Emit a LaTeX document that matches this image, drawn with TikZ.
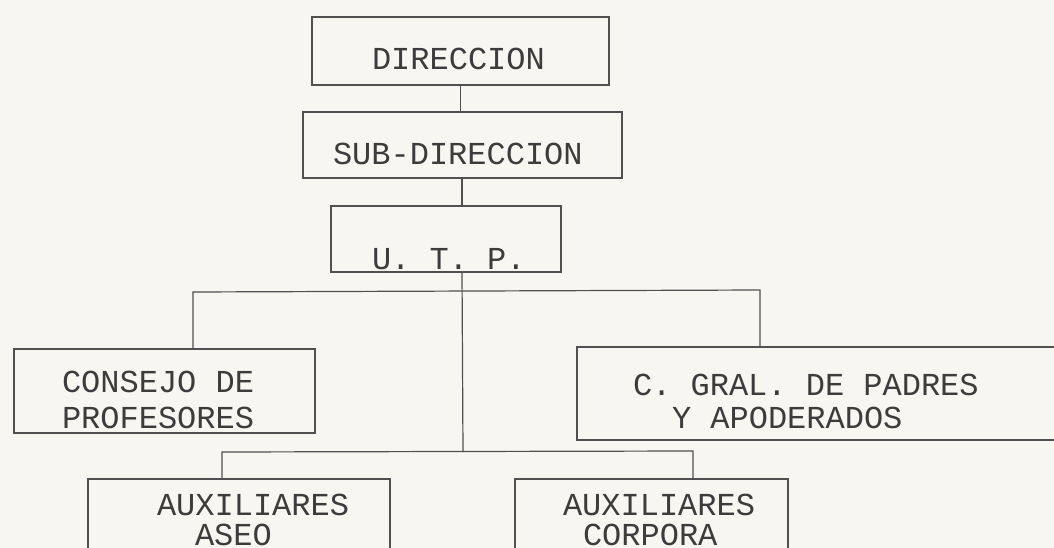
\documentclass[tikz,border=0pt]{standalone}
\usepackage{fontspec}
\setmainfont{Liberation Mono}
\definecolor{paper}{HTML}{F8F6F1}
\definecolor{ink}{HTML}{3C3C3C}
\definecolor{rule}{HTML}{505050}
\begin{document}
\begin{tikzpicture}[x=1pt,y=-1pt,
  orgbox/.style={draw=rule,line width=1.2pt,rectangle,inner sep=0pt,outer sep=0pt},
  txt/.style={anchor=base west,inner sep=0pt,outer sep=0pt,text=ink,font=\fontsize{32pt}{38pt}\selectfont},
  conn/.style={draw=rule,line width=1.2pt}]
\useasboundingbox (0,0) rectangle (1054,548);
\fill[paper] (0,0) rectangle (1054,548);
\clip (0,0) rectangle (1054,548);
% boxes
\node[orgbox,minimum width=297pt,minimum height=68pt] (dir) at (460.5,51) {};
\node[orgbox,minimum width=319pt,minimum height=66pt] (sub) at (462.5,145) {};
\node[orgbox,minimum width=230pt,minimum height=66pt] (utp) at (446,239) {};
\node[orgbox,minimum width=301pt,minimum height=84pt] (cons) at (164.5,391) {};
\node[orgbox,minimum width=493pt,minimum height=93pt] (padres) at (823.5,393.5) {};
\node[orgbox,minimum width=302pt,minimum height=100pt] (aseo) at (239,529) {};
\node[orgbox,minimum width=273pt,minimum height=100pt] (corp) at (651.5,529) {};
% texts
\node[txt] (tdir) at (372,70) {DIRECCION};
\node[txt] (tsub) at (333,165) {SUB-DIRECCION};
\node[txt] (tutp) at (372,269) {U. T. P.};
\node[txt] (tcons1) at (62,392) {CONSEJO DE};
\node[txt] (tcons2) at (62,428) {PROFESORES};
\node[txt] (tpad1) at (633,395) {C. GRAL. DE PADRES};
\node[txt] (tpad2) at (672,428) {Y APODERADOS};
\node[txt] (tase1) at (157,515) {AUXILIARES};
\node[txt] (tase2) at (195,545) {ASEO};
\node[txt] (tcor1) at (563,515) {AUXILIARES};
\node[txt] (tcor2) at (583,545) {CORPORA};
% junctions
\coordinate (jx) at (462,291);
\coordinate (b1L) at (193,292);
\coordinate (b1R) at (760,290);
\coordinate (b2M) at (463,452);
\coordinate (b2L) at (222,452);
\coordinate (b2R) at (693,451);
% connectors
\draw[conn] (dir.south) -- (dir.south |- sub.north);
\draw[conn] (sub.south -| jx) -- (utp.north -| jx);
\draw[conn] (utp.south -| jx) -- (b2M);
\draw[conn] (cons.north -| b1L) -- (b1L) -- (b1R) -- (padres.north -| b1R);
\draw[conn] (aseo.north -| b2L) -- (b2L) -- (b2R) -- (corp.north -| b2R);
\end{tikzpicture}
\end{document}
